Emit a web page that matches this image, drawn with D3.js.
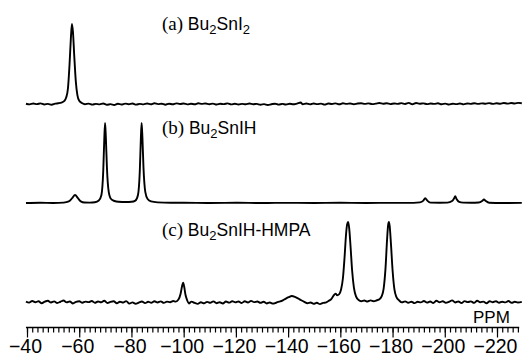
<!DOCTYPE html>
<html>
<head>
<meta charset="utf-8">
<script src="https://cdn.jsdelivr.net/npm/d3@7"></script>
<style>
  body { margin: 0; background: #fff; }
  svg { display: block; }
</style>
</head>
<body>
<script>
// 119Sn spectra, intensity in relative units (0 = baseline, 100 = tallest peak)
const specA = [
  [-39.6,0.3],[-41,-0.5],[-42.4,0.6],[-43.8,-0.2],[-45.2,0.8],[-46.6,-0.6],[-48,0.2],[-49.4,-0.9],[-50.8,0.4],[-52,0.9],
  [-53.2,1.8],[-54.2,3.5],[-55,8],[-55.7,20],[-56.3,50],[-56.8,82],[-57.2,100],[-57.6,90],[-58.1,60],[-58.7,28],
  [-59.3,11],[-60,4],[-61,1.2],[-62.2,-0.4],[-63.6,0.5],[-65,-0.8],[-66.4,0.2],[-67.8,-0.5],[-69.2,0.6],[-70.6,-1.0],
  [-72,-0.2],[-73.4,-1.2],[-74.8,0.3],[-76.2,-0.6],[-77.6,0.5],[-79,-0.4],[-80.4,0.7],[-81.8,-0.8],[-83.2,0.1],[-84.6,-0.5],
  [-86,0.6],[-87.4,-0.3],[-88.8,0.9],[-90.2,-0.2],[-91.6,0.4],[-93,-0.9],[-94.4,0.3],[-95.8,-0.4],[-97.2,0.8],[-98.6,0.0],
  [-100,0.6],[-101.4,-0.5],[-102.8,0.4],[-104.2,-0.3],[-105.6,0.9],[-107,0.1],[-108.4,0.7],[-109.8,-0.4],[-111.2,0.5],[-112.6,-0.6],
  [-114,0.3],[-115.4,-0.2],[-116.8,0.8],[-118.2,-0.5],[-119.6,0.4],[-121,-0.7],[-122.4,0.2],[-123.8,-0.4],[-125.2,0.6],[-126.6,-0.3],
  [-128,0.2],[-129.4,-0.9],[-130.8,-0.2],[-132.2,-1.2],[-133.6,-0.3],[-135,0.4],[-136.4,-0.8],[-137.8,0.1],[-139.2,-0.6],[-140.6,0.3],
  [-142,-0.4],[-143.4,0.5],[-144.8,1.8],[-145.6,-0.3],[-147,0.6],[-148.4,-0.5],[-149.8,0.7],[-151.2,-0.2],[-152.6,0.5],[-154,-0.8],
  [-155.4,0.6],[-156.8,0.0],[-158.2,0.8],[-159.6,-0.4],[-161,0.9],[-162.4,0.2],[-163.8,0.7],[-165.2,-0.3],[-166.6,0.6],[-168,1.0],
  [-169.4,0.1],[-170.8,0.8],[-172.2,-0.2],[-173.6,0.5],[-175,1.2],[-176.4,0.3],[-177.8,0.9],[-179.2,-0.1],[-180.6,0.7],[-182,0.2],
  [-183.4,1.1],[-184.8,0.0],[-186.2,1.4],[-187.6,-0.3],[-189,1.2],[-190.4,0.3],[-191.8,0.8],[-193.2,-0.2],[-194.6,0.6],[-196,0.1],
  [-197.4,0.9],[-198.8,-0.4],[-200.2,0.5],[-201.6,-0.6],[-203,0.4],[-204.4,-0.2],[-205.8,0.7],[-207.2,-0.5],[-208.6,0.6],[-210,0.2],
  [-211.4,1.0],[-212.8,0.1],[-214.2,0.8],[-215.6,0.3],[-217,1.1],[-218.4,0.2],[-219.8,0.9],[-221.2,0.4],[-222.6,1.3],[-224,0.5],
  [-225.4,1.2],[-226.8,0.6],[-228.2,1.4],[-229.5,1.0]
];

const specB = [
  [-39.6,0],[-45,0.3],[-50,0],[-54,0.5],[-56,2],[-57.3,6],[-58.4,10],[-59.5,6],[-60.6,2],[-62,0.6],
  [-64,0.5],[-66,1],[-67.5,3],[-68.5,10],[-69.2,40],[-69.6,80],[-69.9,100],[-70.2,82],[-70.6,45],[-71.3,14],
  [-72.2,5],[-73.5,2.5],[-75,1.5],[-78,1.2],[-80,1.5],[-81.5,3],[-82.5,10],[-83.2,40],[-83.6,80],[-83.9,100],
  [-84.2,82],[-84.6,45],[-85.3,14],[-86.2,5],[-87.5,2],[-90,0.8],[-95,0.3],[-100,0.4],[-110,0],[-120,0.3],
  [-130,0],[-140,0.2],[-150,0],[-160,0.3],[-170,0],[-180,0.2],[-188,0.2],[-190.5,0.8],[-191.8,3],[-192.5,6],
  [-193.3,3],[-194.5,0.5],[-198,0.3],[-201,0.5],[-202.8,2.5],[-203.6,6],[-204,8.5],[-204.5,5],[-205.5,1.5],[-207,0.5],
  [-210,0.3],[-213,0.6],[-214.3,2.5],[-215,4.5],[-215.7,2.5],[-217,0.3],[-222,0],[-229.5,0.2]
];

const specC = [
  [-39.6,0.5],[-40.8,-0.8],[-42,1.2],[-43.2,-0.3],[-44.4,0.9],[-45.6,-1.5],[-46.8,0.4],[-48,1.5],[-49.2,-0.6],[-50.4,0.8],
  [-51.6,-1.2],[-52.8,0.3],[-54,1.8],[-55.2,-0.5],[-56.4,0.6],[-57.6,-1.8],[-58.8,0.2],[-60,1.0],[-61.2,-0.9],[-62.4,0.5],
  [-63.6,-0.2],[-64.8,1.3],[-66,-1.0],[-67.2,0.7],[-68.4,-0.4],[-69.6,1.6],[-70.8,-1.3],[-72,0.2],[-73.2,0.9],[-74.4,-1.6],
  [-75.6,0.4],[-76.8,-0.7],[-78,1.1],[-79.2,-2.0],[-80.4,-0.5],[-81.6,-2.2],[-82.8,-0.8],[-84,0.6],[-85.2,-1.4],[-86.4,0.3],
  [-87.6,-0.9],[-88.8,1.0],[-90,-0.6],[-91.2,0.8],[-92.4,-1.1],[-93.6,0.5],[-94.8,-0.3],[-96,1.2],[-97,0.5],[-98,3],
  [-98.8,10],[-99.4,20],[-99.8,24],[-100.2,19],[-100.7,9],[-101.3,2.5],[-102,-1.8],[-103,0.5],[-104.2,-1.2],[-105.4,-2.3],
  [-106.6,-0.4],[-107.8,-1.6],[-109,0.2],[-110.2,-1.0],[-111.4,0.8],[-112.6,-1.5],[-113.8,-0.3],[-115,-1.8],[-116.2,0.6],[-117.4,-0.8],
  [-118.6,1.0],[-119.8,-0.5],[-121,0.6],[-122.2,-1.2],[-123.4,0.9],[-124.6,-0.6],[-125.8,1.4],[-127,-0.2],[-128.2,0.7],[-129.4,-1.0],
  [-130.6,0.3],[-131.8,-1.8],[-133,-0.6],[-134.2,-2.0],[-135.4,-0.9],[-136.6,0.4],[-137.8,1.8],[-139,4],[-140.2,6],[-141.4,7.5],
  [-142.6,6.5],[-143.8,4.5],[-145,2.2],[-146.2,0.2],[-147.4,-1.5],[-148.6,-0.6],[-149.8,-2.2],[-151,-1.0],[-152.2,-2.6],[-153.4,-1.2],
  [-154.6,-0.4],[-155.6,1.5],[-156.6,4],[-157.4,8],[-158.2,10.5],[-158.8,8.5],[-159.5,9.5],[-160.3,16],[-161,30],[-161.6,55],
  [-162.2,85],[-162.6,97],[-163,100],[-163.4,92],[-163.9,70],[-164.5,40],[-165.2,18],[-166,7],[-167,2.5],[-168,1.0],
  [-169.2,1.8],[-170.4,0.6],[-171.6,2.0],[-172.8,1.0],[-174,2.2],[-175,3.5],[-175.8,7],[-176.6,17],[-177.3,42],[-177.9,78],
  [-178.3,96],[-178.6,100],[-178.9,95],[-179.4,72],[-180,40],[-180.7,16],[-181.5,6],[-182.5,2],[-183.6,-0.5],[-184.8,0.8],
  [-186,-1.0],[-187.2,0.4],[-188.4,-1.4],[-189.6,0.3],[-190.8,-0.5],[-192,1.2],[-193.2,-0.8],[-194.4,0.6],[-195.6,-1.2],[-196.8,1.5],
  [-198,-0.3],[-199.2,0.9],[-200.4,-1.0],[-201.6,0.2],[-202.8,2.0],[-204,-0.6],[-205.2,0.7],[-206.4,-1.3],[-207.6,1.1],[-208.8,-0.2],
  [-210,0.8],[-211.2,-1.1],[-212.4,1.6],[-213.6,-0.4],[-214.8,0.5],[-216,-1.5],[-217.2,0.9],[-218.4,-0.3],[-219.6,1.0],[-220.8,-0.9],
  [-222,0.4],[-223.2,-0.5],[-224.4,1.2],[-225.6,-1.0],[-226.8,0.3],[-228,-0.7],[-229.5,0.2]
];

const panelTags = ['(a)', '(b)', '(c)'];
const panelNames = ['Bu_2SnI_2', 'Bu_2SnIH', 'Bu_2SnIH-HMPA'];
const majorTicks = [-40, -60, -80, -100, -120, -140, -160, -180, -200, -220];
const minorTicks = d3.range(-40, -229, -2);

const W = 524, H = 363;
const spectra = [specA, specB, specC];
const baselines = [104, 203, 302];
const labelY = [30, 134, 236];

const svg = d3.select('body').append('svg')
  .attr('width', W)
  .attr('height', H)
  .style('background', '#fff');

const x = d3.scaleLinear().domain([-40, -220]).range([27, 497]);

// draw each trace on its own baseline
spectra.forEach((spec, i) => {
  const y = d3.scaleLinear().domain([0, 100]).range([baselines[i], baselines[i] - 80]);
  const line = d3.line()
    .x(d => x(d[0]))
    .y(d => y(d[1]))
    .curve(d3.curveMonotoneX);

  svg.append('path')
    .datum(spec)
    .attr('d', line)
    .attr('fill', 'none')
    .attr('stroke', '#000')
    .attr('stroke-width', 1.9)
    .attr('stroke-linejoin', 'round');

  // label: serif tag then sans formula with subscripts
  const t = svg.append('text')
    .attr('x', 162)
    .attr('y', labelY[i])
    .attr('font-size', 17.5)
    .attr('fill', '#000');
  t.append('tspan')
    .attr('font-family', '"Liberation Serif", serif')
    .attr('font-size', 19)
    .text(panelTags[i] + ' ');
  let sub = false;
  panelNames[i].split(/(_\d)/).filter(s => s.length).forEach(part => {
    const isSub = part[0] === '_';
    const ts = t.append('tspan')
      .attr('font-family', '"Liberation Sans", Arial, sans-serif')
      .text(isSub ? part.slice(1) : part);
    if (isSub) ts.attr('font-size', 13).attr('dy', sub ? 0 : 4);
    else if (sub) ts.attr('dy', -4);
    sub = isSub;
  });
});

// ppm ruler
const axisY = 327.5;
const gAxis = svg.append('g').attr('transform', `translate(0,${axisY})`);

gAxis.append('g')
  .call(d3.axisBottom(x).tickValues(minorTicks).tickSize(5).tickSizeOuter(0).tickFormat(''))
  .call(g => g.select('.domain').remove());

gAxis.append('g')
  .call(d3.axisBottom(x).tickValues(majorTicks).tickSize(10).tickSizeOuter(0).tickPadding(2)
    .tickFormat(d => String(d).replace('-', '\u2212')))
  .call(g => g.select('.domain').remove())
  .call(g => g.selectAll('text')
    .attr('font-family', '"Liberation Sans", Arial, sans-serif')
    .attr('font-size', 19.5)
    .attr('dx', -2)
    .attr('fill', '#000'));

gAxis.selectAll('.tick line').attr('stroke', '#000').attr('stroke-width', 1.2);

gAxis.append('line')
  .attr('x1', x(-39.6)).attr('x2', x(-228.5))
  .attr('y1', 0).attr('y2', 0)
  .attr('stroke', '#000')
  .attr('stroke-width', 1.5);

svg.append('text')
  .attr('x', 473)
  .attr('y', 323)
  .attr('font-family', '"Liberation Sans", Arial, sans-serif')
  .attr('font-size', 17)
  .attr('fill', '#000')
  .text('PPM');
</script>
</body>
</html>
